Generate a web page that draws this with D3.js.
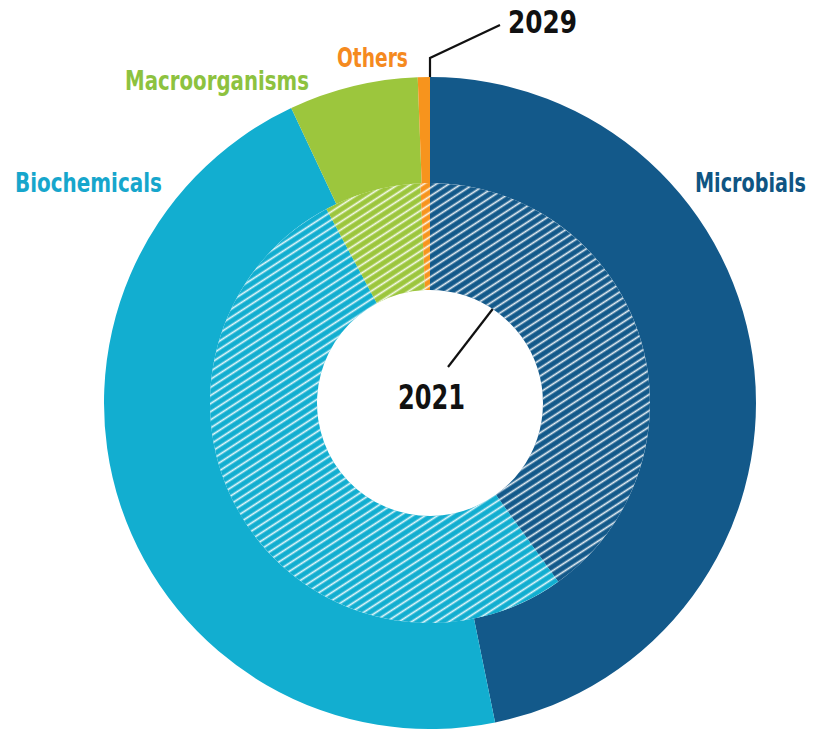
<!DOCTYPE html>
<html>
<head>
<meta charset="utf-8">
<script src="https://cdn.jsdelivr.net/npm/d3@7"></script>
<style>
  body { margin: 0; background: #fff; }
  text { font-family: "Liberation Sans Narrow", "DejaVu Sans Condensed", "Liberation Sans", sans-serif; font-weight: bold; }
</style>
</head>
<body>
<div id="chart"></div>
<script>
// data (share of market, %)
var categories = ["Microbials", "Biochemicals", "Macroorganisms", "Others"];
var values2021 = [40.1, 52.1, 7.1, 0.7];
var values2029 = [46.8, 46.2, 6.4, 0.6];
var years = ["2021", "2029"];
var colors = ["#13598a", "#12aed0", "#9cc63d", "#f7941d"];
var labelColors = ["#0f5583", "#16a6cc", "#8dc23f", "#f58a1f"];

var width = 814, height = 729;
var cx = 430, cy = 403;
var rHole = 113, rMid = 220, rOuter = 326;

var svg = d3.select("#chart")
    .append("svg")
    .attr("width", width)
    .attr("height", height);

// white diagonal hatch used on the inner (2021) ring
var defs = svg.append("defs");
var hatch = defs.append("pattern")
    .attr("id", "hatch")
    .attr("patternUnits", "userSpaceOnUse")
    .attr("width", 12)
    .attr("height", 6.8)
    .attr("patternTransform", "rotate(-33)");
hatch.append("line")
    .attr("x1", 0).attr("x2", 12)
    .attr("y1", 3.4).attr("y2", 3.4)
    .attr("stroke", "#fff")
    .attr("stroke-opacity", 0.9)
    .attr("stroke-width", 1.7);

var g = svg.append("g")
    .attr("transform", "translate(" + cx + "," + cy + ")");

var pie = d3.pie().sort(null).value(function (d) { return d; });

var outerArc = d3.arc().innerRadius(rMid).outerRadius(rOuter);
var innerArc = d3.arc().innerRadius(rHole).outerRadius(rMid);

// 2029 ring
g.selectAll(".outer")
    .data(pie(values2029))
    .enter().append("path")
    .attr("class", "outer")
    .attr("d", outerArc)
    .attr("fill", function (d, i) { return colors[i]; });

// 2021 ring
var inner = g.selectAll(".inner")
    .data(pie(values2021))
    .enter();
inner.append("path")
    .attr("d", innerArc)
    .attr("fill", function (d, i) { return colors[i]; });
inner.append("path")
    .attr("d", innerArc)
    .attr("fill", "url(#hatch)");

// squeeze a text horizontally so it spans w pixels from x
function fitText(sel, x, y, w) {
    var len = sel.node().getComputedTextLength();
    var k = Math.min(1, w / len);
    sel.attr("transform", "translate(" + x + "," + y + ") scale(" + k + ",1)");
}

// category labels
var labelPos = [
    { x: 695, y: 192, w: 111, s: 26 },
    { x: 15, y: 192, w: 147, s: 26 },
    { x: 125, y: 90, w: 184, s: 27 },
    { x: 337, y: 67, w: 71, s: 26 }
];
svg.selectAll(".cat")
    .data(categories)
    .enter().append("text")
    .attr("class", "cat")
    .attr("font-size", function (d, i) { return labelPos[i].s; })
    .attr("fill", function (d, i) { return labelColors[i]; })
    .text(function (d) { return d; })
    .each(function (d, i) {
        fitText(d3.select(this), labelPos[i].x, labelPos[i].y, labelPos[i].w);
    });

// year callouts
var leader = d3.line();
svg.append("path")
    .attr("d", leader([[cx, cy - rOuter], [cx, 58], [500, 25]]))
    .attr("fill", "none")
    .attr("stroke", "#111")
    .attr("stroke-width", 2.2);
var t2029 = svg.append("text")
    .attr("font-size", 32)
    .attr("fill", "#111")
    .text(years[1]);
fitText(t2029, 508, 33, 69);

var a = 33.7 * Math.PI / 180;
svg.append("path")
    .attr("d", leader([[cx + rHole * Math.sin(a), cy - rHole * Math.cos(a)], [448, 367]]))
    .attr("fill", "none")
    .attr("stroke", "#111")
    .attr("stroke-width", 2.2);
var t2021 = svg.append("text")
    .attr("font-size", 34)
    .attr("fill", "#111")
    .text(years[0]);
fitText(t2021, 398, 409, 67);
</script>
</body>
</html>
